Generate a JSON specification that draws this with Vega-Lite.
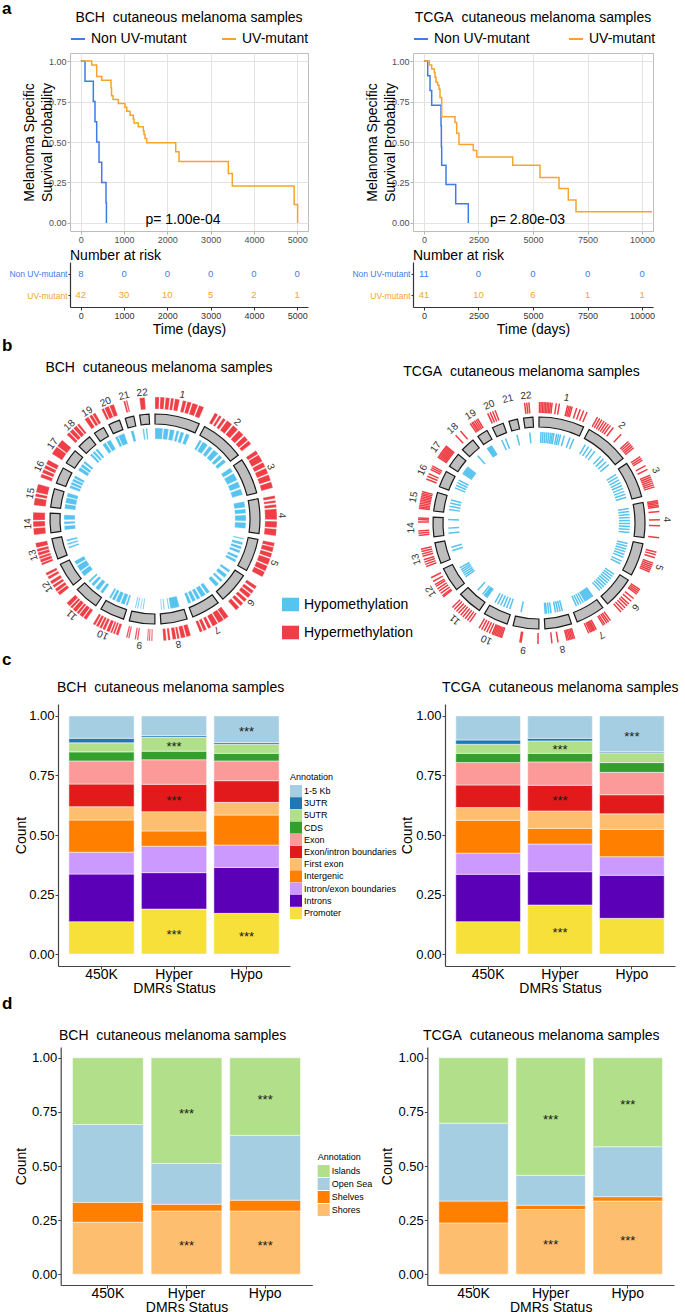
{
"$schema": "https://vega.github.io/schema/vega-lite/v6.json",
"padding": {"left": 0, "top": 0, "right": 0, "bottom": 0},
"autosize": {"type": "pad"},
"background": "white",
"config": {
  "font": "Liberation Sans",
  "view": {"stroke": null},
  "title": {"fontWeight": "normal", "color": "black", "fontSize": 14, "baseline": "alphabetic"},
  "axis": {"labelFont": "Liberation Sans", "titleFont": "Liberation Sans"},
  "legend": {"labelFont": "Liberation Sans", "titleFont": "Liberation Sans"}
},
"datasets": {
  "kmBCH": [
    {"g":"Non UV-mutant","t":0,"s":1},{"g":"Non UV-mutant","t":97,"s":0.875},{"g":"Non UV-mutant","t":289,"s":0.75},{"g":"Non UV-mutant","t":328,"s":0.625},{"g":"Non UV-mutant","t":367,"s":0.5},{"g":"Non UV-mutant","t":421,"s":0.375},{"g":"Non UV-mutant","t":483,"s":0.25},{"g":"Non UV-mutant","t":582,"s":0.125},{"g":"Non UV-mutant","t":592,"s":0},
    {"g":"UV-mutant","t":0,"s":1},{"g":"UV-mutant","t":252,"s":0.976},{"g":"UV-mutant","t":367,"s":0.905},{"g":"UV-mutant","t":483,"s":0.881},{"g":"UV-mutant","t":698,"s":0.833},{"g":"UV-mutant","t":710,"s":0.786},{"g":"UV-mutant","t":744,"s":0.762},{"g":"UV-mutant","t":867,"s":0.738},{"g":"UV-mutant","t":1021,"s":0.714},{"g":"UV-mutant","t":1061,"s":0.69},{"g":"UV-mutant","t":1137,"s":0.666},{"g":"UV-mutant","t":1213,"s":0.642},{"g":"UV-mutant","t":1229,"s":0.618},{"g":"UV-mutant","t":1329,"s":0.594},{"g":"UV-mutant","t":1444,"s":0.57},{"g":"UV-mutant","t":1460,"s":0.546},{"g":"UV-mutant","t":1484,"s":0.522},{"g":"UV-mutant","t":1523,"s":0.495},{"g":"UV-mutant","t":2193,"s":0.44},{"g":"UV-mutant","t":2269,"s":0.38},{"g":"UV-mutant","t":3409,"s":0.305},{"g":"UV-mutant","t":3501,"s":0.228},{"g":"UV-mutant","t":4930,"s":0.114},{"g":"UV-mutant","t":5010,"s":0}
  ],
  "kmTCGA": [
    {"g":"Non UV-mutant","t":0,"s":1},{"g":"Non UV-mutant","t":174,"s":0.909},{"g":"Non UV-mutant","t":280,"s":0.818},{"g":"Non UV-mutant","t":357,"s":0.727},{"g":"Non UV-mutant","t":784,"s":0.6},{"g":"Non UV-mutant","t":800,"s":0.47},{"g":"Non UV-mutant","t":815,"s":0.356},{"g":"Non UV-mutant","t":1013,"s":0.237},{"g":"Non UV-mutant","t":1457,"s":0.118},{"g":"Non UV-mutant","t":2035,"s":0},
    {"g":"UV-mutant","t":0,"s":1},{"g":"UV-mutant","t":247,"s":0.976},{"g":"UV-mutant","t":357,"s":0.951},{"g":"UV-mutant","t":477,"s":0.93},{"g":"UV-mutant","t":509,"s":0.9},{"g":"UV-mutant","t":555,"s":0.87},{"g":"UV-mutant","t":632,"s":0.85},{"g":"UV-mutant","t":692,"s":0.826},{"g":"UV-mutant","t":738,"s":0.775},{"g":"UV-mutant","t":816,"s":0.656},{"g":"UV-mutant","t":1425,"s":0.621},{"g":"UV-mutant","t":1503,"s":0.554},{"g":"UV-mutant","t":1609,"s":0.485},{"g":"UV-mutant","t":2264,"s":0.448},{"g":"UV-mutant","t":2420,"s":0.407},{"g":"UV-mutant","t":4070,"s":0.356},{"g":"UV-mutant","t":5321,"s":0.28},{"g":"UV-mutant","t":6192,"s":0.213},{"g":"UV-mutant","t":6618,"s":0.141},{"g":"UV-mutant","t":6971,"s":0.069},{"g":"UV-mutant","t":10450,"s":0.069}
  ],
  "riskBCH": [
    {"g":"Non UV-mutant","t":0,"n":8},{"g":"Non UV-mutant","t":1000,"n":0},{"g":"Non UV-mutant","t":2000,"n":0},{"g":"Non UV-mutant","t":3000,"n":0},{"g":"Non UV-mutant","t":4000,"n":0},{"g":"Non UV-mutant","t":5000,"n":0},
    {"g":"UV-mutant","t":0,"n":42},{"g":"UV-mutant","t":1000,"n":30},{"g":"UV-mutant","t":2000,"n":10},{"g":"UV-mutant","t":3000,"n":5},{"g":"UV-mutant","t":4000,"n":2},{"g":"UV-mutant","t":5000,"n":1}
  ],
  "riskTCGA": [
    {"g":"Non UV-mutant","t":0,"n":11},{"g":"Non UV-mutant","t":2500,"n":0},{"g":"Non UV-mutant","t":5000,"n":0},{"g":"Non UV-mutant","t":7500,"n":0},{"g":"Non UV-mutant","t":10000,"n":0},
    {"g":"UV-mutant","t":0,"n":41},{"g":"UV-mutant","t":2500,"n":10},{"g":"UV-mutant","t":5000,"n":6},{"g":"UV-mutant","t":7500,"n":1},{"g":"UV-mutant","t":10000,"n":1}
  ],
  "chr": [
    {"c":1,"len":249.25,"off":0},{"c":2,"len":243.2,"off":249.25},{"c":3,"len":198.02,"off":492.45},{"c":4,"len":191.15,"off":690.47},{"c":5,"len":180.92,"off":881.62},{"c":6,"len":171.12,"off":1062.54},{"c":7,"len":159.14,"off":1233.66},{"c":8,"len":146.36,"off":1392.8},{"c":9,"len":141.21,"off":1539.16},{"c":10,"len":135.53,"off":1680.37},{"c":11,"len":135.01,"off":1815.9},{"c":12,"len":133.85,"off":1950.91},{"c":13,"len":115.17,"off":2084.76},{"c":14,"len":107.35,"off":2199.93},{"c":15,"len":102.53,"off":2307.28},{"c":16,"len":90.35,"off":2409.81},{"c":17,"len":81.2,"off":2500.16},{"c":18,"len":78.08,"off":2581.36},{"c":19,"len":59.13,"off":2659.44},{"c":20,"len":63.03,"off":2718.57},{"c":21,"len":48.13,"off":2781.6},{"c":22,"len":51.3,"off":2829.73}
  ],
  "bchHyper": [
    {"c":1,"s":[0,0.1,0.2,0.3,0.38,0.53,0.62,0.72,0.85],"e":[0.08,0.18,0.28,0.36,0.47,0.6,0.7,0.83,0.95]},
    {"c":2,"s":[0.05,0.15,0.24,0.33,0.48,0.63,0.78,0.9],"e":[0.12,0.2,0.3,0.45,0.6,0.75,0.88,0.98]},
    {"c":3,"s":[0,0.12,0.33,0.48,0.65,0.83],"e":[0.1,0.3,0.45,0.62,0.8,0.98]},
    {"c":4,"s":[0,0.12,0.22,0.33,0.64,0.83],"e":[0.08,0.18,0.3,0.6,0.8,1]},
    {"c":5,"s":[0,0.12,0.28,0.43,0.63,0.8],"e":[0.1,0.25,0.4,0.6,0.78,0.95]},
    {"c":6,"s":[0.05,0.2,0.33,0.5,0.65,0.8],"e":[0.15,0.3,0.45,0.6,0.75,0.92]},
    {"c":7,"s":[0,0.17,0.38,0.6,0.75,0.88],"e":[0.15,0.35,0.55,0.7,0.85,0.97]},
    {"c":8,"s":[0.05,0.23,0.42,0.53,0.72,0.85],"e":[0.2,0.38,0.5,0.65,0.8,0.95]},
    {"c":9,"s":[0.08,0.16,0.22,0.55,0.63,0.85,0.92],"e":[0.12,0.2,0.26,0.6,0.68,0.9,0.97]},
    {"c":10,"s":[0,0.13,0.23,0.33,0.5,0.63,0.75,0.88],"e":[0.1,0.2,0.3,0.45,0.6,0.72,0.85,0.97]},
    {"c":11,"s":[0,0.15,0.33,0.45,0.63,0.75],"e":[0.12,0.3,0.42,0.6,0.72,0.9]},
    {"c":12,"s":[0.02,0.18,0.35,0.5,0.7,0.85],"e":[0.15,0.3,0.45,0.62,0.8,0.95]},
    {"c":13,"s":[0,0.12,0.28,0.42,0.58,0.75],"e":[0.1,0.25,0.38,0.55,0.7,0.95]},
    {"c":14,"s":[0,0.35,0.65],"e":[0.3,0.6,1]},
    {"c":15,"s":[0,0.4,0.6],"e":[0.35,0.55,1]},
    {"c":16,"s":[0,0.25,0.5,0.75],"e":[0.2,0.45,0.7,1]},
    {"c":17,"s":[0,0.55],"e":[0.5,1]},
    {"c":18,"s":[0,0.25,0.55,0.85],"e":[0.2,0.5,0.8,1]},
    {"c":19,"s":[0,0.45,0.75],"e":[0.35,0.7,1]},
    {"c":20,"s":[0,0.25,0.65],"e":[0.2,0.6,1]},
    {"c":21,"s":[0.3,0.55],"e":[0.5,0.7]},
    {"c":22,"s":[0.2],"e":[0.7]}
  ],
  "bchHypo": [
    {"c":1,"s":[0,0.22,0.38,0.55,0.66,0.8],"e":[0.2,0.35,0.5,0.62,0.75,0.9]},
    {"c":2,"s":[0.05,0.15,0.35,0.5,0.7,0.85],"e":[0.12,0.3,0.45,0.65,0.8,0.95]},
    {"c":3,"s":[0,0.2,0.5,0.75],"e":[0.15,0.45,0.7,0.95]},
    {"c":4,"s":[0,0.25,0.45,0.7],"e":[0.2,0.4,0.65,0.9]},
    {"c":5,"s":[0.05,0.2,0.35,0.5,0.7,0.85],"e":[0.1,0.3,0.45,0.6,0.8,0.95]},
    {"c":6,"s":[0.1,0.3,0.55,0.75],"e":[0.2,0.45,0.65,0.9]},
    {"c":7,"s":[0,0.2,0.45,0.65,0.85],"e":[0.15,0.4,0.6,0.8,0.98]},
    {"c":8,"s":[0.15,0.6,0.8,0.92],"e":[0.55,0.65,0.85,0.96]},
    {"c":9,"s":[0.5,0.62,0.75,0.85],"e":[0.55,0.66,0.8,0.9]},
    {"c":10,"s":[0,0.15,0.4,0.65,0.85],"e":[0.1,0.35,0.6,0.8,0.95]},
    {"c":11,"s":[0.05,0.3,0.6,0.85],"e":[0.2,0.5,0.75,0.95]},
    {"c":12,"s":[0,0.3,0.65],"e":[0.25,0.6,0.85]},
    {"c":13,"s":[0.3,0.5,0.7],"e":[0.4,0.6,0.8]},
    {"c":14,"s":[0.05,0.4,0.65],"e":[0.3,0.55,0.95]},
    {"c":15,"s":[0,0.35,0.75],"e":[0.3,0.7,1]},
    {"c":16,"s":[0,0.25,0.5,0.75],"e":[0.2,0.45,0.7,0.95]},
    {"c":17,"s":[0,0.35,0.7],"e":[0.3,0.6,0.9]},
    {"c":18,"s":[0.1,0.4,0.7],"e":[0.3,0.6,0.9]},
    {"c":19,"s":[0,0.5],"e":[0.4,1]},
    {"c":20,"s":[0,0.35],"e":[0.3,1]},
    {"c":21,"s":[0.2],"e":[0.6]},
    {"c":22,"s":[0.1,0.5],"e":[0.3,0.7]}
  ],
  "tcgaHyper": [
    {"c":1,"f":[0.01,0.04,0.07,0.1,0.13,0.16,0.19,0.22,0.25,0.33,0.39,0.55,0.58,0.61,0.64,0.73,0.8,0.87,0.94]},
    {"c":2,"f":[0.03,0.08,0.13,0.18,0.23,0.28,0.33,0.4,0.6,0.8,0.84,0.88,0.92,0.96]},
    {"c":3,"f":[0.05,0.1,0.15,0.3,0.4,0.55,0.6,0.65,0.7,0.75,0.8,0.85]},
    {"c":4,"f":[0.02,0.06,0.1,0.14,0.18,0.3,0.5,0.65,0.95]},
    {"c":5,"f":[0.15,0.22,0.3,0.45,0.5,0.55,0.6,0.65,0.7]},
    {"c":6,"f":[0.05,0.1,0.15,0.2,0.35,0.45,0.55,0.62,0.7,0.78,0.86]},
    {"c":7,"f":[0.05,0.12,0.18,0.25,0.3,0.55,0.6,0.63,0.66,0.7,0.74,0.8]},
    {"c":8,"f":[0.05,0.1,0.15,0.2,0.25,0.3,0.6,0.8]},
    {"c":9,"f":[0.03,0.6,0.64]},
    {"c":10,"f":[0.05,0.1,0.15,0.2,0.25,0.3,0.35,0.4,0.5,0.6,0.7,0.8,0.9]},
    {"c":11,"f":[0.05,0.15,0.25,0.35,0.45,0.55,0.65,0.75,0.85]},
    {"c":12,"f":[0.1,0.15,0.25,0.35,0.45,0.55,0.62,0.75,0.9]},
    {"c":13,"f":[0.1,0.2,0.3,0.4,0.55,0.65,0.75,0.85]},
    {"c":14,"f":[0.15,0.25,0.35,0.75,0.85,0.92]},
    {"c":15,"f":[0.05,0.12,0.2,0.28,0.36,0.44,0.52,0.6,0.68,0.76,0.84]},
    {"c":16,"f":[0.15,0.3,0.45,0.7,0.8,0.9]},
    {"c":17,"f":[0.1,0.18,0.26,0.34,0.42,0.5,0.58,0.66,0.74,0.82,0.9]},
    {"c":18,"f":[0.35,0.75]},
    {"c":19,"f":[0.1,0.25,0.35,0.5,0.65,0.8]},
    {"c":20,"f":[0.15,0.35,0.55,0.75]},
    {"c":22,"f":[0.3,0.5,0.7]}
  ],
  "tcgaHypo": [
    {"c":1,"f":[0.05,0.1,0.15,0.2,0.25,0.3,0.34,0.38,0.45,0.5,0.55,0.65,0.8,0.9]},
    {"c":2,"f":[0.1,0.2,0.3,0.4,0.6,0.7,0.8,0.9]},
    {"c":3,"f":[0.1,0.2,0.3,0.4,0.5,0.6,0.7,0.8,0.9]},
    {"c":4,"f":[0.1,0.2,0.3,0.4,0.5,0.6,0.7,0.8,0.9]},
    {"c":5,"f":[0.1,0.2,0.3,0.4,0.5,0.6,0.75,0.85]},
    {"c":6,"f":[0.1,0.2,0.3,0.4,0.5,0.6,0.7,0.8,0.9]},
    {"c":7,"f":[0.05,0.1,0.15,0.2,0.25,0.3,0.35,0.4,0.5,0.6,0.7,0.8]},
    {"c":8,"f":[0.2,0.3,0.4,0.5,0.7,0.8,0.9,0.95]},
    {"c":9,"f":[0.8]},
    {"c":10,"f":[0.1,0.25,0.4,0.55,0.7,0.85]},
    {"c":11,"f":[0.05,0.1,0.15,0.2,0.3,0.6]},
    {"c":12,"f":[0.2,0.3,0.4,0.5,0.6,0.7]},
    {"c":13,"f":[0.4,0.6]},
    {"c":14,"f":[0.1,0.4,0.9]},
    {"c":15,"f":[0.2,0.4,0.6,0.8]},
    {"c":16,"f":[0.3,0.5,0.7,0.9]},
    {"c":17,"f":[0.1,0.2,0.3,0.4,0.5,0.6,0.7]},
    {"c":18,"f":[0.5]},
    {"c":19,"f":[0.1,0.2,0.3,0.4,0.5,0.6]},
    {"c":20,"f":[0.3,0.7]},
    {"c":21,"f":[0.5]},
    {"c":22,"f":[0.5]}
  ],
  "cBCH": [
    {"grp":"450K","ann":"Promoter","v":0.136,"sig":""},{"grp":"450K","ann":"Introns","v":0.2,"sig":""},{"grp":"450K","ann":"Intron/exon boundaries","v":0.092,"sig":""},{"grp":"450K","ann":"Intergenic","v":0.135,"sig":""},{"grp":"450K","ann":"First exon","v":0.056,"sig":""},{"grp":"450K","ann":"Exon/intron boundaries","v":0.095,"sig":""},{"grp":"450K","ann":"Exon","v":0.097,"sig":""},{"grp":"450K","ann":"CDS","v":0.038,"sig":""},{"grp":"450K","ann":"5UTR","v":0.038,"sig":""},{"grp":"450K","ann":"3UTR","v":0.019,"sig":""},{"grp":"450K","ann":"1-5 Kb","v":0.094,"sig":""},
    {"grp":"Hyper","ann":"Promoter","v":0.189,"sig":"***"},{"grp":"Hyper","ann":"Introns","v":0.153,"sig":""},{"grp":"Hyper","ann":"Intron/exon boundaries","v":0.111,"sig":""},{"grp":"Hyper","ann":"Intergenic","v":0.064,"sig":""},{"grp":"Hyper","ann":"First exon","v":0.081,"sig":""},{"grp":"Hyper","ann":"Exon/intron boundaries","v":0.115,"sig":"***"},{"grp":"Hyper","ann":"Exon","v":0.103,"sig":""},{"grp":"Hyper","ann":"CDS","v":0.036,"sig":""},{"grp":"Hyper","ann":"5UTR","v":0.058,"sig":"***"},{"grp":"Hyper","ann":"3UTR","v":0.007,"sig":""},{"grp":"Hyper","ann":"1-5 Kb","v":0.083,"sig":""},
    {"grp":"Hypo","ann":"Promoter","v":0.171,"sig":"***"},{"grp":"Hypo","ann":"Introns","v":0.193,"sig":""},{"grp":"Hypo","ann":"Intron/exon boundaries","v":0.094,"sig":""},{"grp":"Hypo","ann":"Intergenic","v":0.126,"sig":""},{"grp":"Hypo","ann":"First exon","v":0.053,"sig":""},{"grp":"Hypo","ann":"Exon/intron boundaries","v":0.091,"sig":""},{"grp":"Hypo","ann":"Exon","v":0.083,"sig":""},{"grp":"Hypo","ann":"CDS","v":0.032,"sig":""},{"grp":"Hypo","ann":"5UTR","v":0.038,"sig":""},{"grp":"Hypo","ann":"3UTR","v":0.007,"sig":""},{"grp":"Hypo","ann":"1-5 Kb","v":0.112,"sig":"***"}
  ],
  "cTCGA": [
    {"grp":"450K","ann":"Promoter","v":0.136,"sig":""},{"grp":"450K","ann":"Introns","v":0.199,"sig":""},{"grp":"450K","ann":"Intron/exon boundaries","v":0.089,"sig":""},{"grp":"450K","ann":"Intergenic","v":0.138,"sig":""},{"grp":"450K","ann":"First exon","v":0.053,"sig":""},{"grp":"450K","ann":"Exon/intron boundaries","v":0.095,"sig":""},{"grp":"450K","ann":"Exon","v":0.094,"sig":""},{"grp":"450K","ann":"CDS","v":0.039,"sig":""},{"grp":"450K","ann":"5UTR","v":0.038,"sig":""},{"grp":"450K","ann":"3UTR","v":0.018,"sig":""},{"grp":"450K","ann":"1-5 Kb","v":0.101,"sig":""},
    {"grp":"Hyper","ann":"Promoter","v":0.206,"sig":"***"},{"grp":"Hyper","ann":"Introns","v":0.14,"sig":""},{"grp":"Hyper","ann":"Intron/exon boundaries","v":0.116,"sig":""},{"grp":"Hyper","ann":"Intergenic","v":0.066,"sig":""},{"grp":"Hyper","ann":"First exon","v":0.073,"sig":""},{"grp":"Hyper","ann":"Exon/intron boundaries","v":0.108,"sig":"***"},{"grp":"Hyper","ann":"Exon","v":0.098,"sig":""},{"grp":"Hyper","ann":"CDS","v":0.036,"sig":""},{"grp":"Hyper","ann":"5UTR","v":0.052,"sig":"***"},{"grp":"Hyper","ann":"3UTR","v":0.011,"sig":""},{"grp":"Hyper","ann":"1-5 Kb","v":0.094,"sig":""},
    {"grp":"Hypo","ann":"Promoter","v":0.15,"sig":""},{"grp":"Hypo","ann":"Introns","v":0.181,"sig":""},{"grp":"Hypo","ann":"Intron/exon boundaries","v":0.078,"sig":""},{"grp":"Hypo","ann":"Intergenic","v":0.115,"sig":""},{"grp":"Hypo","ann":"First exon","v":0.065,"sig":""},{"grp":"Hypo","ann":"Exon/intron boundaries","v":0.08,"sig":""},{"grp":"Hypo","ann":"Exon","v":0.094,"sig":""},{"grp":"Hypo","ann":"CDS","v":0.041,"sig":""},{"grp":"Hypo","ann":"5UTR","v":0.041,"sig":""},{"grp":"Hypo","ann":"3UTR","v":0.005,"sig":""},{"grp":"Hypo","ann":"1-5 Kb","v":0.15,"sig":"***"}
  ],
  "dBCH": [
    {"grp":"450K","ann":"Shores","v":0.24,"sig":""},{"grp":"450K","ann":"Shelves","v":0.092,"sig":""},{"grp":"450K","ann":"Open Sea","v":0.36,"sig":""},{"grp":"450K","ann":"Islands","v":0.308,"sig":""},
    {"grp":"Hyper","ann":"Shores","v":0.292,"sig":"***"},{"grp":"Hyper","ann":"Shelves","v":0.031,"sig":""},{"grp":"Hyper","ann":"Open Sea","v":0.189,"sig":""},{"grp":"Hyper","ann":"Islands","v":0.488,"sig":"***"},
    {"grp":"Hypo","ann":"Shores","v":0.292,"sig":"***"},{"grp":"Hypo","ann":"Shelves","v":0.05,"sig":""},{"grp":"Hypo","ann":"Open Sea","v":0.3,"sig":""},{"grp":"Hypo","ann":"Islands","v":0.358,"sig":"***"}
  ],
  "dTCGA": [
    {"grp":"450K","ann":"Shores","v":0.237,"sig":""},{"grp":"450K","ann":"Shelves","v":0.101,"sig":""},{"grp":"450K","ann":"Open Sea","v":0.36,"sig":""},{"grp":"450K","ann":"Islands","v":0.302,"sig":""},
    {"grp":"Hyper","ann":"Shores","v":0.299,"sig":"***"},{"grp":"Hyper","ann":"Shelves","v":0.02,"sig":""},{"grp":"Hyper","ann":"Open Sea","v":0.138,"sig":""},{"grp":"Hyper","ann":"Islands","v":0.543,"sig":"***"},
    {"grp":"Hypo","ann":"Shores","v":0.338,"sig":"***"},{"grp":"Hypo","ann":"Shelves","v":0.02,"sig":""},{"grp":"Hypo","ann":"Open Sea","v":0.231,"sig":""},{"grp":"Hypo","ann":"Islands","v":0.411,"sig":"***"}
  ]
},
"columns": 4,
"align": "each",
"bounds": "flush",
"spacing": 0,
"resolve": {"scale": {"color": "independent"}},
"concat": [
  {"width": 70, "height": 178, "data": {"values": []}, "mark": "point",
   "title": {"text": "a", "anchor": "start", "frame": "group", "fontSize": 17, "fontWeight": "bold", "offset": 35, "dx": 2}},
  {"width": 238, "height": 178,
   "view": {"stroke": "#BDBDBD", "strokeWidth": 1},
   "title": {"text": "BCH\u00a0 cutaneous melanoma samples", "anchor": "middle", "frame": "group", "offset": 6},
   "layer": [
     {"data": {"name": "kmBCH"},
      "mark": {"type": "line", "interpolate": "step-after", "strokeWidth": 1.5},
      "encoding": {
        "x": {"field": "t", "type": "quantitative", "scale": {"domain": [-250, 5250], "nice": false, "zero": false},
              "axis": {"title": null, "values": [0,500,1000,1500,2000,2500,3000,3500,4000,4500,5000], "format": "d",
                       "labelExpr": "datum.value % 1000 === 0 ? datum.label : ''",
                       "grid": true, "gridColor": {"condition": {"test": "datum.value % 1000 === 0", "value": "#E3E3E3"}, "value": "#F2F2F2"},
                       "domain": false, "tickColor": "#B3B3B3", "tickSize": 3,
                       "tickOpacity": {"condition": {"test": "datum.value % 1000 === 0", "value": 1}, "value": 0},
                       "labelFontSize": 9, "labelColor": "#4D4D4D", "labelPadding": 1}},
        "y": {"field": "s", "type": "quantitative", "scale": {"domain": [-0.05, 1.05], "nice": false, "zero": false},
              "axis": {"title": ["Melanoma Specific", "Survival Probability"], "titleFontSize": 14, "titleFontWeight": "normal", "titleColor": "black", "titleLineHeight": 18, "titlePadding": -6,
                       "values": [0,0.125,0.25,0.375,0.5,0.625,0.75,0.875,1], "format": ".2f",
                       "labelExpr": "(datum.value * 4) % 1 === 0 ? datum.label : ''",
                       "grid": true, "gridColor": {"condition": {"test": "(datum.value * 4) % 1 === 0", "value": "#E3E3E3"}, "value": "#F2F2F2"},
                       "domain": false, "tickColor": "#B3B3B3", "tickSize": 3,
                       "tickOpacity": {"condition": {"test": "(datum.value * 4) % 1 === 0", "value": 1}, "value": 0},
                       "labelFontSize": 9, "labelColor": "#4D4D4D", "labelPadding": 1}},
        "color": {"field": "g", "type": "nominal", "scale": {"domain": ["Non UV-mutant", "UV-mutant"], "range": ["#3E7DE6", "#F5A52A"]},
                  "legend": {"orient": "top", "direction": "horizontal", "title": null, "symbolType": "stroke", "symbolStrokeWidth": 2, "symbolSize": 196, "labelFontSize": 14, "labelColor": "black", "labelOffset": 5, "columnPadding": 31, "offset": 7, "padding": 0}}
      }},
     {"data": {"values": [{}]},
      "mark": {"type": "text", "fontSize": 14, "baseline": "middle", "align": "center", "color": "black"},
      "encoding": {"x": {"datum": 2361, "type": "quantitative"}, "y": {"datum": 0.02, "type": "quantitative"}, "text": {"value": "p= 1.00e-04"}}}
   ]},
  {"width": 101, "height": 178, "data": {"values": []}, "mark": "point"},
  {"width": 240, "height": 178,
   "view": {"stroke": "#BDBDBD", "strokeWidth": 1},
   "title": {"text": "TCGA\u00a0 cutaneous melanoma samples", "anchor": "middle", "frame": "group", "offset": 6},
   "layer": [
     {"data": {"name": "kmTCGA"},
      "mark": {"type": "line", "interpolate": "step-after", "strokeWidth": 1.5},
      "encoding": {
        "x": {"field": "t", "type": "quantitative", "scale": {"domain": [-500, 10500], "nice": false, "zero": false},
              "axis": {"title": null, "values": [0,1250,2500,3750,5000,6250,7500,8750,10000], "format": "d",
                       "labelExpr": "datum.value % 2500 === 0 ? datum.label : ''",
                       "grid": true, "gridColor": {"condition": {"test": "datum.value % 2500 === 0", "value": "#E3E3E3"}, "value": "#F2F2F2"},
                       "domain": false, "tickColor": "#B3B3B3", "tickSize": 3,
                       "tickOpacity": {"condition": {"test": "datum.value % 2500 === 0", "value": 1}, "value": 0},
                       "labelFontSize": 9, "labelColor": "#4D4D4D", "labelPadding": 1}},
        "y": {"field": "s", "type": "quantitative", "scale": {"domain": [-0.05, 1.05], "nice": false, "zero": false},
              "axis": {"title": ["Melanoma Specific", "Survival Probability"], "titleFontSize": 14, "titleFontWeight": "normal", "titleColor": "black", "titleLineHeight": 18, "titlePadding": -6,
                       "values": [0,0.125,0.25,0.375,0.5,0.625,0.75,0.875,1], "format": ".2f",
                       "labelExpr": "(datum.value * 4) % 1 === 0 ? datum.label : ''",
                       "grid": true, "gridColor": {"condition": {"test": "(datum.value * 4) % 1 === 0", "value": "#E3E3E3"}, "value": "#F2F2F2"},
                       "domain": false, "tickColor": "#B3B3B3", "tickSize": 3,
                       "tickOpacity": {"condition": {"test": "(datum.value * 4) % 1 === 0", "value": 1}, "value": 0},
                       "labelFontSize": 9, "labelColor": "#4D4D4D", "labelPadding": 1}},
        "color": {"field": "g", "type": "nominal", "scale": {"domain": ["Non UV-mutant", "UV-mutant"], "range": ["#3E7DE6", "#F5A52A"]},
                  "legend": {"orient": "top", "direction": "horizontal", "title": null, "symbolType": "stroke", "symbolStrokeWidth": 2, "symbolSize": 196, "labelFontSize": 14, "labelColor": "black", "labelOffset": 5, "columnPadding": 35, "offset": 7, "padding": 0}}
      }},
     {"data": {"values": [{}]},
      "mark": {"type": "text", "fontSize": 14, "baseline": "middle", "align": "center", "color": "black"},
      "encoding": {"x": {"datum": 4748, "type": "quantitative"}, "y": {"datum": 0.015, "type": "quantitative"}, "text": {"value": "p= 2.80e-03"}}}
   ]},

  {"width": 1, "height": 31, "data": {"values": []}, "mark": "point"},
  {"width": 1, "height": 31, "data": {"values": []}, "mark": "point"},
  {"width": 1, "height": 31, "data": {"values": []}, "mark": "point"},
  {"width": 1, "height": 31, "data": {"values": []}, "mark": "point"},

  {"width": 70, "height": 45, "data": {"values": []}, "mark": "point"},
  {"width": 238, "height": 45, "data": {"name": "riskBCH"},
   "title": {"text": "Number at risk", "anchor": "start", "frame": "group", "fontSize": 14, "offset": -1},
   "mark": {"type": "text", "fontSize": 9.5},
   "encoding": {
     "x": {"field": "t", "type": "quantitative", "scale": {"domain": [-250, 5250], "nice": false, "zero": false},
           "axis": {"values": [0,1000,2000,3000,4000,5000], "format": "d", "title": "Time (days)", "titleFontSize": 14, "titleFontWeight": "normal", "titleColor": "black", "titlePadding": 2,
                    "labelFontSize": 9, "labelColor": "#333333", "domainColor": "#333333", "domainWidth": 1.2, "tickColor": "#333333", "tickSize": 3, "labelPadding": 1, "grid": false}},
     "y": {"field": "g", "type": "nominal", "scale": {"type": "point", "domain": ["Non UV-mutant", "UV-mutant"], "padding": 0.57},
           "axis": {"title": null, "labelFontSize": 8.5, "labelColor": {"condition": {"test": "datum.value === 'Non UV-mutant'", "value": "#3E7DE6"}, "value": "#F5A52A"},
                    "domainColor": "#333333", "domainWidth": 1.2, "tickColor": "#333333", "tickSize": 2, "labelPadding": 1, "grid": false}},
     "color": {"field": "g", "type": "nominal", "scale": {"domain": ["Non UV-mutant", "UV-mutant"], "range": ["#3E7DE6", "#F5A52A"]}, "legend": null},
     "text": {"field": "n", "type": "quantitative"}
   }},
  {"width": 1, "height": 45, "data": {"values": []}, "mark": "point"},
  {"width": 240, "height": 45, "data": {"name": "riskTCGA"},
   "title": {"text": "Number at risk", "anchor": "start", "frame": "group", "fontSize": 14, "offset": -1},
   "mark": {"type": "text", "fontSize": 9.5},
   "encoding": {
     "x": {"field": "t", "type": "quantitative", "scale": {"domain": [-500, 10500], "nice": false, "zero": false},
           "axis": {"values": [0,2500,5000,7500,10000], "format": "d", "title": "Time (days)", "titleFontSize": 14, "titleFontWeight": "normal", "titleColor": "black", "titlePadding": 2,
                    "labelFontSize": 9, "labelColor": "#333333", "domainColor": "#333333", "domainWidth": 1.2, "tickColor": "#333333", "tickSize": 3, "labelPadding": 1, "grid": false}},
     "y": {"field": "g", "type": "nominal", "scale": {"type": "point", "domain": ["Non UV-mutant", "UV-mutant"], "padding": 0.57},
           "axis": {"title": null, "labelFontSize": 8.5, "labelColor": {"condition": {"test": "datum.value === 'Non UV-mutant'", "value": "#3E7DE6"}, "value": "#F5A52A"},
                    "domainColor": "#333333", "domainWidth": 1.2, "tickColor": "#333333", "tickSize": 2, "labelPadding": 1, "grid": false}},
     "color": {"field": "g", "type": "nominal", "scale": {"domain": ["Non UV-mutant", "UV-mutant"], "range": ["#3E7DE6", "#F5A52A"]}, "legend": null},
     "text": {"field": "n", "type": "quantitative"}
   }},

  {"width": 1, "height": 112, "data": {"values": []}, "mark": "point"},
  {"width": 1, "height": 112, "data": {"values": []}, "mark": "point"},
  {"width": 1, "height": 112, "data": {"values": []}, "mark": "point"},
  {"width": 1, "height": 112, "data": {"values": []}, "mark": "point"},

  {"width": 70, "height": 200, "data": {"values": []}, "mark": "point",
   "title": {"text": "b", "anchor": "start", "frame": "group", "fontSize": 17, "fontWeight": "bold", "offset": 64, "dx": 2}},
  {"width": 170, "height": 200,
   "title": {"text": "BCH\u00a0 cutaneous melanoma samples", "anchor": "middle", "frame": "group", "offset": 12, "dx": 4},
   "layer": [
     {"data": {"name": "chr"},
      "transform": [{"calculate": "datum.off + (datum.c - 1) * 32.68", "as": "a0"}, {"calculate": "datum.a0 + datum.len", "as": "a1"}],
      "mark": {"type": "arc", "radius": 105, "radius2": 95, "fill": "#BEBEBE", "stroke": "#1A1A1A", "strokeWidth": 1.2},
      "encoding": {"theta": {"field": "a0", "type": "quantitative", "scale": {"domain": [0, 3600], "range": [0, 6.283185307]}, "stack": null}, "theta2": {"field": "a1"}}},
     {"data": {"name": "bchHyper"},
      "transform": [{"flatten": ["s", "e"]}, {"lookup": "c", "from": {"data": {"name": "chr"}, "key": "c", "fields": ["len", "off"]}},
                    {"calculate": "datum.off + (datum.c - 1) * 32.68 + datum.s * datum.len", "as": "p0"},
                    {"calculate": "datum.off + (datum.c - 1) * 32.68 + datum.e * datum.len", "as": "p1"}],
      "mark": {"type": "arc", "radius": 122, "radius2": 110, "stroke": "white", "strokeWidth": 0.3},
      "encoding": {"theta": {"field": "p0", "type": "quantitative", "stack": null}, "theta2": {"field": "p1"},
                   "color": {"datum": "Hypermethylation", "type": "nominal", "scale": {"domain": ["Hypomethylation", "Hypermethylation"], "range": ["#57C3EF", "#EF3E46"]},
                             "legend": {"orient": "none", "legendX": 212, "legendY": 177, "title": null, "symbolType": "M-1,-0.8H1V0.8H-1Z", "symbolSize": 289, "symbolStrokeWidth": 0, "labelFontSize": 14, "labelColor": "black", "labelOffset": 5, "rowPadding": 12, "padding": 0}}}},
     {"data": {"name": "bchHypo"},
      "transform": [{"flatten": ["s", "e"]}, {"lookup": "c", "from": {"data": {"name": "chr"}, "key": "c", "fields": ["len", "off"]}},
                    {"calculate": "datum.off + (datum.c - 1) * 32.68 + datum.s * datum.len", "as": "p0"},
                    {"calculate": "datum.off + (datum.c - 1) * 32.68 + datum.e * datum.len", "as": "p1"}],
      "mark": {"type": "arc", "radius": 91, "radius2": 80, "stroke": "white", "strokeWidth": 0.3},
      "encoding": {"theta": {"field": "p0", "type": "quantitative", "stack": null}, "theta2": {"field": "p1"},
                   "color": {"datum": "Hypomethylation", "type": "nominal"}}},
     {"data": {"name": "chr"},
      "transform": [{"calculate": "datum.off + (datum.c - 1) * 32.68 + datum.len / 2", "as": "mid"}, {"calculate": "datum.mid / 10", "as": "deg"}],
      "mark": {"type": "text", "radius": 127, "fontSize": 10, "color": "#333333", "align": "center", "baseline": "middle"},
      "encoding": {"theta": {"field": "mid", "type": "quantitative", "stack": null}, "text": {"field": "c", "type": "nominal"}, "angle": {"field": "deg", "type": "quantitative", "scale": null}}}
   ]},
  {"width": 1, "height": 200, "data": {"values": []}, "mark": "point"},
  {"width": 252, "height": 208,
   "title": {"text": "TCGA\u00a0 cutaneous melanoma samples", "anchor": "middle", "frame": "group", "offset": 11, "dx": -17.5},
   "layer": [
     {"data": {"name": "chr"},
      "transform": [{"calculate": "datum.off + (datum.c - 1) * 32.68", "as": "a0"}, {"calculate": "datum.a0 + datum.len", "as": "a1"}],
      "mark": {"type": "arc", "radius": 106, "radius2": 96, "fill": "#BEBEBE", "stroke": "#1A1A1A", "strokeWidth": 1.2},
      "encoding": {"theta": {"field": "a0", "type": "quantitative", "scale": {"domain": [0, 3600], "range": [0, 6.283185307]}, "stack": null}, "theta2": {"field": "a1"}}},
     {"data": {"name": "tcgaHyper"},
      "transform": [{"flatten": ["f"]}, {"lookup": "c", "from": {"data": {"name": "chr"}, "key": "c", "fields": ["len", "off"]}},
                    {"calculate": "datum.off + (datum.c - 1) * 32.68 + datum.f * datum.len", "as": "p"}],
      "mark": {"type": "arc", "radius": 121, "radius2": 110, "stroke": "#EF3E46", "strokeWidth": 1.5, "fillOpacity": 0},
      "encoding": {"theta": {"field": "p", "type": "quantitative", "stack": null}, "theta2": {"field": "p"}}},
     {"data": {"name": "tcgaHypo"},
      "transform": [{"flatten": ["f"]}, {"lookup": "c", "from": {"data": {"name": "chr"}, "key": "c", "fields": ["len", "off"]}},
                    {"calculate": "datum.off + (datum.c - 1) * 32.68 + datum.f * datum.len", "as": "p"}],
      "mark": {"type": "arc", "radius": 91, "radius2": 80, "stroke": "#57C3EF", "strokeWidth": 1.5, "fillOpacity": 0},
      "encoding": {"theta": {"field": "p", "type": "quantitative", "stack": null}, "theta2": {"field": "p"}}},
     {"data": {"name": "chr"},
      "transform": [{"calculate": "datum.off + (datum.c - 1) * 32.68 + datum.len / 2", "as": "mid"}, {"calculate": "datum.mid / 10", "as": "deg"}],
      "mark": {"type": "text", "radius": 128, "fontSize": 10, "color": "#333333", "align": "center", "baseline": "middle"},
      "encoding": {"theta": {"field": "mid", "type": "quantitative", "stack": null}, "text": {"field": "c", "type": "nominal"}, "angle": {"field": "deg", "type": "quantitative", "scale": null}}}
   ]},

  {"width": 1, "height": 77, "data": {"values": []}, "mark": "point"},
  {"width": 1, "height": 77, "data": {"values": []}, "mark": "point"},
  {"width": 1, "height": 77, "data": {"values": []}, "mark": "point"},
  {"width": 1, "height": 77, "data": {"values": []}, "mark": "point"},

  {"width": 70, "height": 262, "data": {"values": []}, "mark": "point",
   "title": {"text": "c", "anchor": "start", "frame": "group", "fontSize": 17, "fontWeight": "bold", "offset": 35, "dx": 2}},
  {"width": 220, "height": 262, "data": {"name": "cBCH"},
   "title": {"text": "BCH\u00a0 cutaneous melanoma samples", "anchor": "start", "frame": "group", "offset": 9, "dx": -13},
   "transform": [
     {"calculate": "indexof(['Promoter','Introns','Intron/exon boundaries','Intergenic','First exon','Exon/intron boundaries','Exon','CDS','5UTR','3UTR','1-5 Kb'], datum.ann)", "as": "k"},
     {"window": [{"op": "sum", "field": "v", "as": "hi"}], "groupby": ["grp"], "sort": [{"field": "k", "order": "ascending"}], "frame": [null, 0]},
     {"calculate": "datum.hi - datum.v", "as": "lo"},
     {"calculate": "datum.hi - datum.v / 2", "as": "mid"}
   ],
   "layer": [
     {"mark": {"type": "bar", "stroke": "white", "strokeWidth": 0.5},
      "encoding": {
        "x": {"field": "grp", "type": "nominal", "scale": {"domain": ["450K", "Hyper", "Hypo"], "range": [-12, 220], "paddingInner": 0.1, "paddingOuter": 0.15},
              "axis": {"title": "DMRs Status", "titleFontSize": 14, "titleFontWeight": "normal", "titleColor": "black", "titlePadding": 0, "labelFontSize": 14, "labelColor": "black", "labelAngle": 0, "labelPadding": -2, "domainColor": "#444444", "domainWidth": 1.2, "tickColor": "#444444", "tickSize": 3}},
        "y": {"field": "lo", "type": "quantitative", "scale": {"domain": [-0.05, 1.05], "nice": false, "zero": false},
              "axis": {"offset": 12, "title": "Count", "titleFontSize": 14, "titleFontWeight": "normal", "titleColor": "black", "titlePadding": 0, "values": [0, 0.25, 0.5, 0.75, 1], "format": ".2f", "labelFontSize": 13, "labelColor": "black", "labelPadding": 1, "domainColor": "#444444", "domainWidth": 1.2, "tickColor": "#444444", "tickSize": 3, "grid": false}},
        "y2": {"field": "hi"},
        "color": {"field": "ann", "type": "nominal",
                  "scale": {"domain": ["1-5 Kb", "3UTR", "5UTR", "CDS", "Exon", "Exon/intron boundaries", "First exon", "Intergenic", "Intron/exon boundaries", "Introns", "Promoter"],
                            "range": ["#A6CEE3", "#1F78B4", "#B2DF8A", "#33A02C", "#FB9A99", "#E31A1C", "#FDBF6F", "#FF7F00", "#CC99FF", "#5C00B8", "#F7E03A"]},
                  "legend": {"orient": "none", "legendX": 220, "legendY": 69, "title": "Annotation", "titleFontSize": 9, "titleFontWeight": "normal", "titleColor": "black", "titlePadding": 3, "labelFontSize": 9, "labelColor": "black", "symbolType": "square", "symbolSize": 144, "symbolStrokeWidth": 0, "symbolOpacity": 1, "rowPadding": 0.2, "labelOffset": 2, "padding": 0}}
      }},
     {"transform": [{"filter": "datum.sig === '***'"}],
      "mark": {"type": "text", "fontSize": 13, "baseline": "middle", "dy": 3, "color": "#1A1A1A"},
      "encoding": {"x": {"field": "grp", "type": "nominal"}, "y": {"field": "mid", "type": "quantitative"}, "text": {"field": "sig"}}}
   ]},
  {"width": 1, "height": 262, "data": {"values": []}, "mark": "point"},
  {"width": 262, "height": 262, "data": {"name": "cTCGA"},
   "title": {"text": "TCGA\u00a0 cutaneous melanoma samples", "anchor": "start", "frame": "group", "offset": 9, "dx": 29},
   "transform": [
     {"calculate": "indexof(['Promoter','Introns','Intron/exon boundaries','Intergenic','First exon','Exon/intron boundaries','Exon','CDS','5UTR','3UTR','1-5 Kb'], datum.ann)", "as": "k"},
     {"window": [{"op": "sum", "field": "v", "as": "hi"}], "groupby": ["grp"], "sort": [{"field": "k", "order": "ascending"}], "frame": [null, 0]},
     {"calculate": "datum.hi - datum.v", "as": "lo"},
     {"calculate": "datum.hi - datum.v / 2", "as": "mid"}
   ],
   "layer": [
     {"mark": {"type": "bar", "stroke": "white", "strokeWidth": 0.5},
      "encoding": {
        "x": {"field": "grp", "type": "nominal", "scale": {"domain": ["450K", "Hyper", "Hypo"], "range": [32, 262], "paddingInner": 0.1, "paddingOuter": 0.15},
              "axis": {"title": "DMRs Status", "titleFontSize": 14, "titleFontWeight": "normal", "titleColor": "black", "titlePadding": 0, "labelFontSize": 14, "labelColor": "black", "labelAngle": 0, "labelPadding": -2, "domainColor": "#444444", "domainWidth": 1.2, "tickColor": "#444444", "tickSize": 3}},
        "y": {"field": "lo", "type": "quantitative", "scale": {"domain": [-0.05, 1.05], "nice": false, "zero": false},
              "axis": {"offset": -32, "title": "Count", "titleFontSize": 14, "titleFontWeight": "normal", "titleColor": "black", "titlePadding": 1, "values": [0, 0.25, 0.5, 0.75, 1], "format": ".2f", "labelFontSize": 13, "labelColor": "black", "labelPadding": 1, "domainColor": "#444444", "domainWidth": 1.2, "tickColor": "#444444", "tickSize": 3, "grid": false}},
        "y2": {"field": "hi"},
        "color": {"field": "ann", "type": "nominal",
                  "scale": {"domain": ["1-5 Kb", "3UTR", "5UTR", "CDS", "Exon", "Exon/intron boundaries", "First exon", "Intergenic", "Intron/exon boundaries", "Introns", "Promoter"],
                            "range": ["#A6CEE3", "#1F78B4", "#B2DF8A", "#33A02C", "#FB9A99", "#E31A1C", "#FDBF6F", "#FF7F00", "#CC99FF", "#5C00B8", "#F7E03A"]},
                  "legend": null}
      }},
     {"transform": [{"filter": "datum.sig === '***'"}],
      "mark": {"type": "text", "fontSize": 13, "baseline": "middle", "dy": 3, "color": "#1A1A1A"},
      "encoding": {"x": {"field": "grp", "type": "nominal"}, "y": {"field": "mid", "type": "quantitative"}, "text": {"field": "sig"}}}
   ]},

  {"width": 1, "height": 81, "data": {"values": []}, "mark": "point"},
  {"width": 1, "height": 81, "data": {"values": []}, "mark": "point"},
  {"width": 1, "height": 81, "data": {"values": []}, "mark": "point"},
  {"width": 1, "height": 81, "data": {"values": []}, "mark": "point"},

  {"width": 70, "height": 238, "data": {"values": []}, "mark": "point",
   "title": {"text": "d", "anchor": "start", "frame": "group", "fontSize": 17, "fontWeight": "bold", "offset": 34, "dx": 2}},
  {"width": 242, "height": 238, "data": {"name": "dBCH"},
   "title": {"text": "BCH\u00a0 cutaneous melanoma samples", "anchor": "start", "frame": "group", "offset": 4, "dx": -11},
   "transform": [
     {"calculate": "indexof(['Shores','Shelves','Open Sea','Islands'], datum.ann)", "as": "k"},
     {"window": [{"op": "sum", "field": "v", "as": "hi"}], "groupby": ["grp"], "sort": [{"field": "k", "order": "ascending"}], "frame": [null, 0]},
     {"calculate": "datum.hi - datum.v", "as": "lo"},
     {"calculate": "datum.hi - datum.v / 2", "as": "mid"}
   ],
   "layer": [
     {"mark": {"type": "bar", "stroke": "white", "strokeWidth": 0.5},
      "encoding": {
        "x": {"field": "grp", "type": "nominal", "scale": {"domain": ["450K", "Hyper", "Hypo"], "range": [-9.3, 242.3], "paddingInner": 0.1, "paddingOuter": 0.15},
              "axis": {"title": "DMRs Status", "titleFontSize": 14, "titleFontWeight": "normal", "titleColor": "black", "titlePadding": 0, "labelFontSize": 14, "labelColor": "black", "labelAngle": 0, "labelPadding": -2, "domainColor": "#444444", "domainWidth": 1.2, "tickColor": "#444444", "tickSize": 3}},
        "y": {"field": "lo", "type": "quantitative", "scale": {"domain": [-0.05, 1.05], "nice": false, "zero": false},
              "axis": {"offset": 9.3, "title": "Count", "titleFontSize": 14, "titleFontWeight": "normal", "titleColor": "black", "titlePadding": 3, "values": [0, 0.25, 0.5, 0.75, 1], "format": ".2f", "labelFontSize": 13, "labelColor": "black", "labelPadding": 1, "domainColor": "#444444", "domainWidth": 1.2, "tickColor": "#444444", "tickSize": 3, "grid": false}},
        "y2": {"field": "hi"},
        "color": {"field": "ann", "type": "nominal",
                  "scale": {"domain": ["Islands", "Open Sea", "Shelves", "Shores"], "range": ["#B2DF8A", "#A6CEE3", "#FF7F00", "#FDBF6F"]},
                  "legend": {"orient": "none", "legendX": 247.7, "legendY": 106, "title": "Annotation", "titleFontSize": 9, "titleFontWeight": "normal", "titleColor": "black", "titlePadding": 3, "labelFontSize": 9, "labelColor": "black", "symbolType": "square", "symbolSize": 144, "symbolStrokeWidth": 0, "symbolOpacity": 1, "rowPadding": 1, "labelOffset": 2, "padding": 0}}
      }},
     {"transform": [{"filter": "datum.sig === '***'"}],
      "mark": {"type": "text", "fontSize": 13, "baseline": "middle", "dy": 3, "color": "#1A1A1A"},
      "encoding": {"x": {"field": "grp", "type": "nominal"}, "y": {"field": "mid", "type": "quantitative"}, "text": {"field": "sig"}}}
   ]},
  {"width": 1, "height": 238, "data": {"values": []}, "mark": "point"},
  {"width": 261, "height": 238, "data": {"name": "dTCGA"},
   "title": {"text": "TCGA\u00a0 cutaneous melanoma samples", "anchor": "start", "frame": "group", "offset": 4, "dx": 10},
   "transform": [
     {"calculate": "indexof(['Shores','Shelves','Open Sea','Islands'], datum.ann)", "as": "k"},
     {"window": [{"op": "sum", "field": "v", "as": "hi"}], "groupby": ["grp"], "sort": [{"field": "k", "order": "ascending"}], "frame": [null, 0]},
     {"calculate": "datum.hi - datum.v", "as": "lo"},
     {"calculate": "datum.hi - datum.v / 2", "as": "mid"}
   ],
   "layer": [
     {"mark": {"type": "bar", "stroke": "white", "strokeWidth": 0.5},
      "encoding": {
        "x": {"field": "grp", "type": "nominal", "scale": {"domain": ["450K", "Hyper", "Hypo"], "range": [14.3, 261], "paddingInner": 0.1, "paddingOuter": 0.15},
              "axis": {"title": "DMRs Status", "titleFontSize": 14, "titleFontWeight": "normal", "titleColor": "black", "titlePadding": 0, "labelFontSize": 14, "labelColor": "black", "labelAngle": 0, "labelPadding": -2, "domainColor": "#444444", "domainWidth": 1.2, "tickColor": "#444444", "tickSize": 3}},
        "y": {"field": "lo", "type": "quantitative", "scale": {"domain": [-0.05, 1.05], "nice": false, "zero": false},
              "axis": {"offset": -14.3, "title": "Count", "titleFontSize": 14, "titleFontWeight": "normal", "titleColor": "black", "titlePadding": 3, "values": [0, 0.25, 0.5, 0.75, 1], "format": ".2f", "labelFontSize": 13, "labelColor": "black", "labelPadding": 1, "domainColor": "#444444", "domainWidth": 1.2, "tickColor": "#444444", "tickSize": 3, "grid": false}},
        "y2": {"field": "hi"},
        "color": {"field": "ann", "type": "nominal",
                  "scale": {"domain": ["Islands", "Open Sea", "Shelves", "Shores"], "range": ["#B2DF8A", "#A6CEE3", "#FF7F00", "#FDBF6F"]},
                  "legend": null}
      }},
     {"transform": [{"filter": "datum.sig === '***'"}],
      "mark": {"type": "text", "fontSize": 13, "baseline": "middle", "dy": 3, "color": "#1A1A1A"},
      "encoding": {"x": {"field": "grp", "type": "nominal"}, "y": {"field": "mid", "type": "quantitative"}, "text": {"field": "sig"}}}
   ]}
]
}
